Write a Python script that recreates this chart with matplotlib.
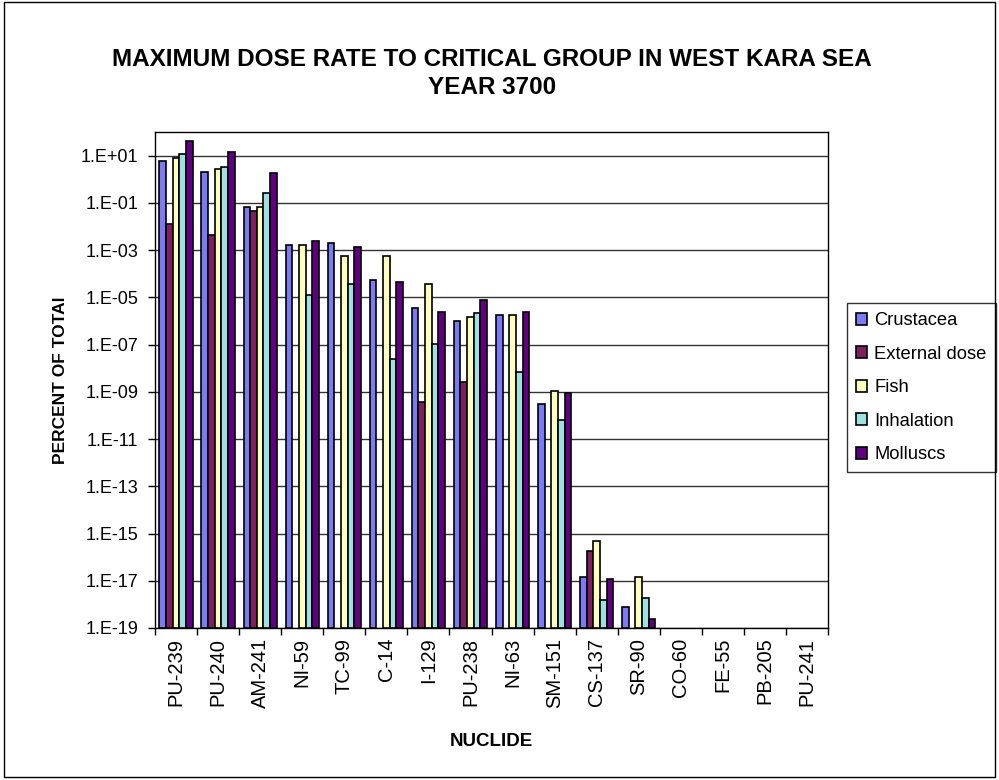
import numpy as np
import matplotlib
matplotlib.use("Agg")
import matplotlib.pyplot as plt
from matplotlib.patches import Rectangle

plt.rcParams['font.family'] = ['Liberation Sans', 'DejaVu Sans']

nan = np.nan
categories = ["PU-239", "PU-240", "AM-241", "NI-59", "TC-99", "C-14", "I-129", "PU-238",
              "NI-63", "SM-151", "CS-137", "SR-90", "CO-60", "FE-55", "PB-205", "PU-241"]
series_names = ["Crustacea", "External dose", "Fish", "Inhalation", "Molluscs"]
crustacea = [5.7, 1.95, 0.066, 1.7e-3, 2.0e-3, 5.6e-5, 3.6e-6, 1.0e-6, 1.8e-6, 3.0e-10,
             1.4e-17, 7.4e-19, nan, nan, nan, nan]
external = [0.013, 0.0043, 0.046, nan, nan, nan, 3.6e-10, 2.7e-9, nan, nan,
            1.9e-16, nan, nan, nan, nan, nan]
fish = [8.0, 2.7, 0.066, 1.7e-3, 5.5e-4, 5.5e-4, 3.5e-5, 1.45e-6, 1.8e-6, 1.05e-9,
        4.9e-16, 1.4e-17, nan, nan, nan, nan]
inhalation = [11.8, 3.3, 0.25, 1.3e-5, 3.5e-5, 2.5e-8, 1.1e-7, 2.1e-6, 6.6e-9, 6.6e-11,
              1.6e-18, 1.9e-18, nan, nan, nan, nan]
molluscs = [43, 13.8, 1.9, 2.5e-3, 1.4e-3, 4.3e-5, 2.5e-6, 7.6e-6, 2.5e-6, 8.7e-10,
            1.2e-17, 2.4e-19, nan, nan, nan, nan]
yticks_exp = list(range(1, -20, -2))
ytick_labels = ["1.E+01", "1.E-01", "1.E-03", "1.E-05", "1.E-07", "1.E-09", "1.E-11",
                "1.E-13", "1.E-15", "1.E-17", "1.E-19"]

colors = ['#7B7BF5', '#7F1F5F', '#FFFFC0', '#A0E0E0', '#600080']
data = [crustacea, external, fish, inhalation, molluscs]

ymin, ymax = 1e-19, 1e2

fig = plt.figure(figsize=(9.99, 7.8), dpi=100)
ax = fig.add_axes([155/999, 1-628/780, (828-155)/999, (628-132)/780])
ax.set_yscale('log')

x = np.arange(len(categories))
w = 0.158
for i, (name, vals, c) in enumerate(zip(series_names, data, colors)):
    v = np.array(vals, dtype=float)
    ax.bar(x + (i - 2) * w, v - ymin, width=w, bottom=ymin, color=c,
           edgecolor='black', linewidth=1.2, label=name, zorder=3)

ax.set_ylim(ymin, ymax)
ax.set_xlim(-0.5, len(categories) - 0.5)
ax.set_yticks([10.0 ** e for e in yticks_exp])
ax.set_yticklabels(ytick_labels, fontsize=13)
ax.yaxis.set_minor_locator(matplotlib.ticker.NullLocator())
ax.set_xticks(np.arange(len(categories) + 1) - 0.5, minor=True)
ax.set_xticks(x)
ax.set_xticklabels(categories, rotation=90, fontsize=14.5)
ax.tick_params(axis='x', which='major', length=0, pad=7)
ax.tick_params(axis='x', which='minor', length=5, width=1, direction='out')
ax.tick_params(axis='y', length=5, width=1, direction='out', pad=7)
ax.yaxis.grid(True, color='#333333', linewidth=1.0, zorder=0)
for s in ax.spines.values():
    s.set_linewidth(1.0)
    s.set_color('black')

ax.set_ylabel("PERCENT OF TOTAl", fontsize=12.5, fontweight='bold', labelpad=9)
ax.set_xlabel("NUCLIDE", fontsize=13.5, fontweight='bold', labelpad=18)

fig.text(492/999, 1-60/780, "MAXIMUM DOSE RATE TO CRITICAL GROUP IN WEST KARA SEA",
         ha='center', va='center', fontsize=17.5, fontweight='bold')
fig.text(492/999, 1-87/780, "YEAR 3700", ha='center', va='center', fontsize=17.5,
         fontweight='bold')

leg = ax.legend(loc='upper left', bbox_to_anchor=(847/999, 1-303/780),
                bbox_transform=fig.transFigure, fontsize=13.2, frameon=True,
                fancybox=False, edgecolor='black', handlelength=0.6, handleheight=0.6,
                handletextpad=0.4, labelspacing=0.9, borderpad=0.5, borderaxespad=0)
leg.get_frame().set_linewidth(1.0)

fig.patches.append(Rectangle((4/999, 3/780), 991/999, 775/780, transform=fig.transFigure,
                             fill=False, edgecolor='black', linewidth=1.0))

fig.savefig("out.png", dpi=100)
